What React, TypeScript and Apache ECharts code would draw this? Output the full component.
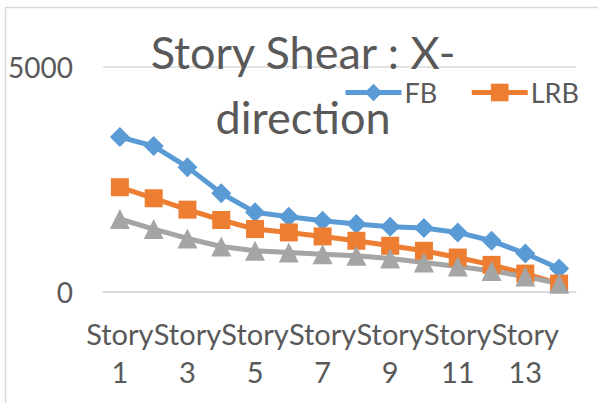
import React, { useEffect, useRef } from "react";
import * as echarts from "echarts";

const categories = [
  "Story 1", "Story 2", "Story 3", "Story 4", "Story 5", "Story 6", "Story 7",
  "Story 8", "Story 9", "Story 10", "Story 11", "Story 12", "Story 13", "Story 14",
];
const fbValues = [3444, 3243, 2775, 2194, 1770, 1674, 1585, 1511, 1451, 1421, 1324, 1138, 856, 521];
const lrbValues = [2329, 2083, 1830, 1600, 1399, 1324, 1235, 1138, 1027, 915, 766, 603, 409, 186];
const series3Values = [1622, 1399, 1190, 1012, 915, 878, 841, 804, 744, 655, 565, 469, 342, 186];
const yTicks = { min: 0, max: 5000, interval: 5000 };
const titleLines = ["Story Shear : X-", "direction"];

const FONT = "Lato, 'Open Sans', sans-serif";
const TXT = "#595959";
const GRID = "#d9d9d9";

export default function App() {
  const ref = useRef<HTMLDivElement>(null);
  useEffect(() => {
    if (!ref.current) return;
    const chart = echarts.init(ref.current, null, { renderer: "svg" });
    const titleY = [52, 117];
    const titleEls = titleLines.map((t, i) => ({
      type: "text",
      x: 303,
      y: titleY[i],
      z: 1,
      style: {
        text: t,
        align: "center",
        verticalAlign: "middle",
        fontSize: 45,
        lineHeight: 40,
        fontFamily: FONT,
        fill: TXT,
      },
    }));
    chart.setOption({
      animation: false,
      backgroundColor: "#ffffff",
      textStyle: { fontFamily: FONT, color: TXT },
      grid: { left: 103, right: 22, top: 67, bottom: 111, containLabel: false },
      graphic: [
        {
          type: "polyline",
          shape: { points: [[5.5, 403], [5.5, 7.5], [598, 7.5]] },
          style: { stroke: GRID, lineWidth: 1.5, fill: "none" },
          z: 0,
        },
        ...titleEls,
      ],
      legend: {
        data: ["FB", "LRB"],
        left: 343,
        top: 79,
        itemWidth: 56,
        itemHeight: 22,
        itemGap: 32,
        padding: 0,
        lineStyle: { width: 5 },
        textStyle: { fontSize: 27, lineHeight: 22, color: TXT, fontFamily: FONT, padding: [0, 0, 0, -2] },
      },
      xAxis: {
        type: "category",
        data: categories,
        boundaryGap: true,
        axisLine: { lineStyle: { color: GRID, width: 1.5 } },
        axisTick: { show: false },
        axisLabel: {
          interval: 1,
          formatter: (v: string) => v.replace(" ", "\n"),
          fontSize: 29,
          lineHeight: 38,
          color: TXT,
          fontFamily: FONT,
          margin: 22,
        },
      },
      yAxis: {
        type: "value",
        min: yTicks.min,
        max: yTicks.max,
        interval: yTicks.interval,
        axisLine: { show: false },
        axisTick: { show: false },
        splitLine: { lineStyle: { color: GRID, width: 1.5 } },
        axisLabel: {
          fontSize: 28,
          color: TXT,
          fontFamily: FONT,
          margin: 30,
          formatter: (v: number) => String(v),
        },
      },
      series: [
        {
          name: "FB",
          type: "line",
          data: fbValues,
          symbol: "diamond",
          symbolSize: 20,
          itemStyle: { color: "#5B9BD5" },
          lineStyle: { color: "#5B9BD5", width: 5 },
        },
        {
          name: "LRB",
          type: "line",
          data: lrbValues,
          symbol: "rect",
          symbolSize: 18,
          itemStyle: { color: "#ED7D31" },
          lineStyle: { color: "#ED7D31", width: 5 },
        },
        {
          name: "Series 3",
          type: "line",
          data: series3Values,
          symbol: "triangle",
          symbolSize: 20,
          itemStyle: { color: "#A5A5A5" },
          lineStyle: { color: "#A5A5A5", width: 5 },
        },
      ],
    });
    return () => chart.dispose();
  }, []);
  return (
    <div
      ref={ref}
      style={{ position: "absolute", left: 0, top: 0, width: 598, height: 403 }}
    />
  );
}
